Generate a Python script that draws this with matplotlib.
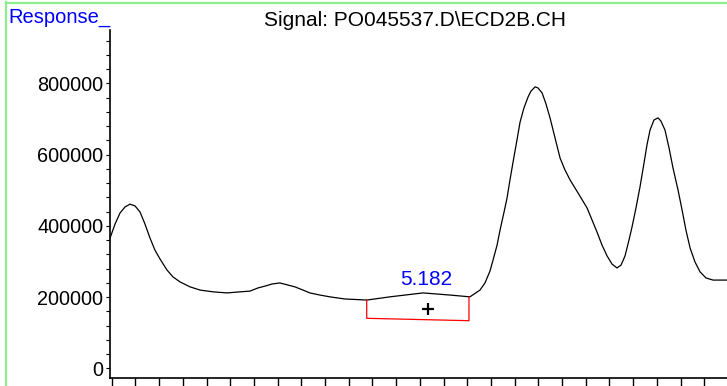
"""Chromatogram ECD2B - recreation"""
import matplotlib
matplotlib.use("Agg")
import matplotlib.pyplot as plt
from matplotlib.lines import Line2D
from matplotlib.ticker import MultipleLocator

plt.rcParams["font.family"] = ["Liberation Sans", "DejaVu Sans"]

# signal trace (min, response)
time = [4.9186, 4.9228, 4.9270, 4.9312, 4.9354, 4.9397, 4.9439, 4.9481, 4.9523,
        4.9565, 4.9608, 4.9667, 4.9717, 4.9776, 4.9861, 4.9945, 5.0055, 5.0173,
        5.0283, 5.0366, 5.0435, 5.0493, 5.0553, 5.0619, 5.0688, 5.0746, 5.0814,
        5.0872, 5.0958, 5.1041, 5.1167, 5.1354, 5.1548, 5.1827, 5.2055, 5.2223,
        5.2308, 5.2350, 5.2392, 5.2418, 5.2452, 5.2477, 5.2511, 5.2536, 5.2561,
        5.2587, 5.2620, 5.2646, 5.2679, 5.2714, 5.2738, 5.2773, 5.2797, 5.2832,
        5.2865, 5.2899, 5.2941, 5.2984, 5.3025, 5.3068, 5.3136, 5.3212, 5.3253,
        5.3295, 5.3338, 5.3380, 5.3422, 5.3464, 5.3498, 5.3532, 5.3565, 5.3591,
        5.3624, 5.3658, 5.3692, 5.3717, 5.3743, 5.3776, 5.3810, 5.3835, 5.3869,
        5.3903, 5.3937, 5.3979, 5.4013, 5.4046, 5.4081, 5.4122, 5.4165, 5.4215,
        5.4275, 5.4393]
response = [366000, 405000, 436000, 453000, 461000, 456000, 439000, 405000, 366000,
            332000, 307000, 276000, 257000, 243000, 229000, 220000, 215000, 212000,
            215000, 217000, 226000, 231000, 237000, 240000, 234000, 229000, 220000,
            212000, 206000, 201000, 195000, 192000, 201000, 212000, 206000, 201000,
            220000, 240000, 273000, 304000, 346000, 388000, 439000, 478000, 529000,
            579000, 641000, 691000, 731000, 762000, 778000, 790000, 787000, 773000,
            742000, 703000, 647000, 590000, 557000, 529000, 492000, 450000, 417000,
            383000, 346000, 316000, 293000, 282000, 290000, 316000, 360000, 397000,
            450000, 509000, 576000, 627000, 669000, 697000, 703000, 694000, 669000,
            619000, 562000, 501000, 445000, 388000, 338000, 299000, 271000, 254000,
            248000, 248000]

# integration of the peak at 5.182
peak_rt = "5.182"
peak_start = (5.1352, 192000)
peak_end = (5.2215, 200000)
base_start = 140800
base_end = 134100
label_pos = (5.1852, 222000)
marker_pos = (5.1872, 166000)

title = r"Signal: PO045537.D\ECD2B.CH"
y_label = "Response_"

fig = plt.figure(figsize=(7.27, 3.86), dpi=100)
ax = fig.add_axes([109.5 / 727, 7.7 / 386, 1 - 109.5 / 727, 348.3 / 386])

ax.plot(time, response, color="black", lw=0.9)

# red baseline box
bx = [peak_start[0], peak_start[0], peak_end[0], peak_end[0]]
by = [peak_start[1], base_start, base_end, peak_end[1]]
ax.plot(bx, by, color="red", lw=0.9)
ax.plot(*marker_pos, marker="+", color="black", ms=9, mew=1.6)
ax.text(label_pos[0], label_pos[1], peak_rt, color="#0000ff", fontsize=15,
        ha="center", va="bottom")

ax.set_xlim(4.91814, 5.43924)
ax.set_ylim(-27500, 949500)
ax.xaxis.set_major_locator(MultipleLocator(0.02))
ax.xaxis.set_ticklabels([])
ax.yaxis.set_major_locator(MultipleLocator(200000))
ax.yaxis.set_minor_locator(MultipleLocator(40000))
ax.tick_params(axis="x", direction="out", length=7, width=1)
ax.tick_params(axis="y", which="both", direction="out", length=3, width=0.8,
               labelsize=14.3, pad=1.5)
ax.spines["top"].set_visible(False)
ax.spines["right"].set_visible(False)
ax.spines["left"].set_linewidth(1.2)
ax.spines["bottom"].set_linewidth(1.2)

# green frame and header texts
green = "#90ee90"
fig.add_artist(Line2D([6 / 727, 6 / 727], [0, 1 - 2 / 386], color=green, lw=1.6))
fig.add_artist(Line2D([6 / 727, 1], [1 - 3 / 386, 1 - 3 / 386], color=green, lw=1.6))
fig.text(8 / 727, 1 - 22.7 / 386, y_label, color="#0000ff", fontsize=14.5,
         va="baseline", ha="left")
fig.text(415 / 727, 1 - 26 / 386, title, color="black", fontsize=15,
         va="baseline", ha="center")

fig.savefig("out.png", dpi=100)
